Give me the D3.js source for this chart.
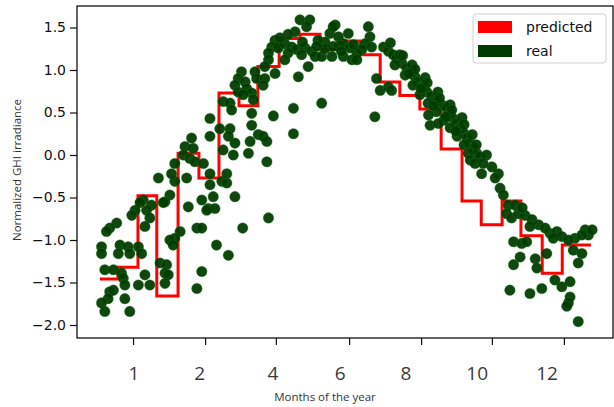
<!DOCTYPE html>
<html>
<head>
<meta charset="utf-8">
<script src="https://cdn.jsdelivr.net/npm/d3@7"></script>
<style>
  body { margin: 0; background: #fff; }
  svg { display: block; }
</style>
</head>
<body>
<div id="chart"></div>
<script>
// données -----------------------------------------------------------------
// prédiction : une valeur par demi-mois, bornes en mois
const stepEdges = [0, 0.44, 0.93, 1.39, 1.91, 2.42, 2.91, 3.40, 3.86, 4.38, 4.89, 5.38,
  5.84, 6.36, 6.85, 7.33, 7.82, 8.34, 8.85, 9.32, 9.83, 10.29, 10.81, 11.30, 12.0];
const predicted = [-1.46, -1.32, -0.48, -1.66, 0.02, -0.27, 0.73, 0.58, 1.04, 1.37, 1.42, 1.24,
  1.34, 1.18, 0.86, 0.70, 0.54, 0.07, -0.54, -0.82, -0.54, -0.95, -1.39, -1.06];

// mesures réelles (mois, GHI normalisé)
const realMonth = [
  1.43, 1.83, 2.12, 2.69, 2.98, 1.06, 1.26, 1.71, 1.59, 0.86, 0.78, 1.14, 1.22, 1.10, 2.16, 2.49,
  2.65, 2.81, 2.77, 0.41, 0.24, 0.16, 2.37, 2.49, 1.96, 1.83, 1.71, 1.79, 0.04, 0.04, 0.49, 0.45,
  0.69, 0.73, 0.94, 1.02, 2.85, 0.12, 0.33, 0.53, 0.57, 0.61, 1.47, 1.63, 1.59, 1.67, 1.10, 2.49,
  0.94, 1.22, 1.59, 2.37, 0.24, 0.33, 0.20, 0.61, 0.04, 0.12, 0.73, 1.55, 0.98, 2.61, 3.30, 3.49,
  4.12, 3.14, 3.10, 2.69, 2.93, 2.69, 2.24, 2.08, 2.28, 2.04, 2.20, 2.32, 2.53, 2.69, 1.83, 1.75,
  3.01, 3.01, 4.89, 5.13, 5.05, 4.77, 5.75, 5.62, 5.83, 6.07, 5.50, 4.28, 4.20, 4.12, 4.36, 4.52,
  4.69, 4.81, 5.01, 5.18, 4.60, 4.93, 5.26, 5.42, 5.67, 5.95, 6.16, 4.52, 4.12, 4.03, 4.28, 5.09,
  4.85, 3.79, 3.83, 4.03, 3.46, 3.38, 3.30, 3.55, 3.59, 3.71, 3.38, 3.50, 3.75, 3.99, 5.42, 4.73,
  4.24, 3.71, 3.71, 3.18, 3.22, 3.18, 3.14, 3.30, 3.67, 3.87, 3.99, 4.08, 4.73, 3.26, 3.63, 4.08,
  3.10, 5.70, 6.56, 6.60, 6.48, 6.40, 6.28, 6.28, 6.64, 6.93, 7.05, 7.17, 7.25, 7.38, 7.50, 7.62,
  7.70, 7.78, 7.90, 7.99, 8.11, 8.23, 8.36, 8.48, 8.56, 8.64, 8.72, 8.80, 8.89, 8.97, 9.05, 9.13,
  9.21, 9.29, 7.21, 7.46, 7.65, 7.82, 8.02, 8.22, 8.41, 8.56, 8.73, 8.90, 7.33, 7.63, 7.95, 8.26,
  8.56, 8.85, 9.10, 6.76, 6.85, 7.05, 7.13, 6.72, 8.03, 8.07, 8.27, 9.00, 9.05, 9.17, 9.45, 9.58,
  9.74, 9.37, 9.33, 5.95, 5.33, 5.87, 6.11, 9.66, 9.78, 9.86, 9.98, 9.94, 10.06, 10.23, 10.39, 10.56,
  10.72, 10.51, 11.00, 11.17, 11.29, 11.08, 11.61, 11.86, 11.94, 11.78, 11.45, 10.11, 10.31, 10.43, 10.27, 10.11,
  10.64, 10.68, 10.92, 11.57, 11.78, 11.69, 11.12, 11.29, 11.49, 10.02, 10.51, 10.80, 11.49, 11.45, 11.41, 11.69,
  10.15, 10.32, 10.88, 12.03,
  // points ajoutés pour épaissir les zones denses
  5.50, 5.70, 5.90, 6.20, 5.30, 4.95, 4.60, 4.40, 7.10, 7.40, 7.70, 8.00, 8.30, 8.60, 8.90, 9.20,
  7.55, 7.85, 8.15, 8.45, 8.70
];
const realValue = [
  -0.27, -0.31, -0.27, -0.35, -0.31, -0.53, -0.59, -0.47, -0.55, -0.65, -0.71, -0.65, -0.74, -0.84, -0.61, -0.53,
  -0.63, -0.63, -0.49, -0.80, -0.86, -0.90, -0.86, -0.86, -0.90, -0.98, -1.00, -1.06, -1.08, -1.16, -1.06, -1.16,
  -1.08, -1.16, -1.08, -1.16, -1.06, -1.35, -1.35, -1.39, -1.45, -1.53, -1.27, -1.29, -1.39, -1.41, -1.41, -1.37,
  -1.53, -1.53, -1.51, -1.57, -1.61, -1.59, -1.69, -1.69, -1.74, -1.84, -1.84, -0.56, -0.56, -0.65, -0.49, -0.86,
  -0.74, -1.18, -0.33, 0.43, 0.31, 0.22, 0.20, 0.10, 0.08, 0.00, -0.04, -0.08, -0.10, -0.22, -0.10, -0.22,
  0.63, 0.06, 1.59, 1.59, 1.51, 1.45, 1.53, 1.43, 1.39, 1.43, 1.33, 1.35, 1.27, 1.20, 1.26, 1.31,
  1.27, 1.24, 1.26, 1.22, 1.20, 1.18, 1.16, 1.16, 1.16, 1.16, 1.12, 1.12, 1.12, 1.04, 0.96, 1.04,
  0.92, 0.98, 0.90, 0.90, 0.98, 0.90, 0.82, 0.86, 0.78, 0.73, 0.74, 0.71, 0.65, 0.82, 0.61, 0.55,
  0.46, 0.49, 0.35, 0.61, 0.53, 0.31, 0.22, 0.14, 0.16, 0.24, 0.22, 0.16, 0.25, 0.00, 0.02, -0.08,
  -0.22, 1.51, 1.51, 1.39, 1.31, 1.24, 1.20, 1.12, 1.27, 1.27, 1.22, 1.18, 1.14, 1.08, 1.02, 0.98,
  0.92, 0.86, 0.80, 0.74, 0.69, 0.63, 0.59, 0.55, 0.49, 0.43, 0.37, 0.31, 0.26, 0.20, 0.14, 0.08,
  0.02, -0.02, 1.06, 0.94, 0.82, 0.71, 0.61, 0.51, 0.41, 0.32, 0.22, 0.12, 1.18, 1.06, 0.91, 0.74,
  0.59, 0.44, 0.24, 0.90, 0.76, 0.80, 0.76, 0.45, 0.47, 0.35, 0.37, 0.02, -0.06, -0.10, 0.00, -0.14,
  -0.22, -0.10, -0.22, 1.31, 1.35, 1.29, 1.26, -0.27, -0.39, -0.47, -0.59, -0.69, -0.74, -0.69, -0.71, -0.76,
  -0.82, -0.84, -0.92, -0.90, -0.96, -0.98, -0.98, -0.88, -0.94, -0.94, -1.00, -1.02, -1.04, -1.02, -1.20, -1.29,
  -1.22, -1.33, -1.16, -1.12, -1.16, -1.27, -1.47, -1.55, -1.49, -1.59, -1.63, -1.57, -1.67, -1.74, -1.78, -1.96,
  -0.59, -0.62, -0.86, -0.88,
  1.25, 1.28, 1.22, 1.30, 1.28, 1.33, 1.42, 1.38, 1.32, 1.17, 1.01, 0.85, 0.67, 0.53, 0.36, 0.12,
  0.96, 0.78, 0.58, 0.45, 0.28
];

// axes
const yTicks = [-2.0, -1.5, -1.0, -0.5, 0.0, 0.5, 1.0, 1.5];
const xTickPos = [0.81, 2.57, 4.30, 6.09, 7.85, 9.58, 11.34];
const xLabelPos = [0.83, 2.44, 4.23, 5.87, 7.48, 9.22, 10.93];
const xLabels = ["1", "2", "4", "6", "8", "10", "12"];

// svg ---------------------------------------------------------------------
const largeur = 614;
const hauteur = 407;
const marge = { haut: 6, droite: 1, bas: 69, gauche: 77 };
const vert = "#003b00";

const svg = d3.select("#chart").append("svg")
  .attr("width", largeur)
  .attr("height", hauteur);

const x = d3.scaleLinear().domain([-0.56, 12.54]).range([marge.gauche, largeur - marge.droite]);
const y = d3.scaleLinear().domain([-2.153, 1.753]).range([hauteur - marge.bas, marge.haut]);

// ligne en escalier de la prédiction
const stepPoints = [];
predicted.forEach((v, i) => {
  stepPoints.push([stepEdges[i], v]);
  stepPoints.push([stepEdges[i + 1], v]);
});
const line = d3.line().x((d) => x(d[0])).y((d) => y(d[1]));

svg.append("path")
  .datum(stepPoints)
  .attr("d", line)
  .attr("fill", "none")
  .attr("stroke", "#ff0000")
  .attr("stroke-width", 3);

// points réels
const real = realMonth.map((m, i) => ({ m: m, v: realValue[i] }));
svg.append("g")
  .selectAll("circle")
  .data(real)
  .join("circle")
  .attr("cx", (d) => x(d.m))
  .attr("cy", (d) => y(d.v))
  .attr("r", 5.3)
  .attr("fill", vert)
  .attr("fill-opacity", 0.94)
  .attr("stroke", "#2a8a2a")
  .attr("stroke-opacity", 0.4)
  .attr("stroke-width", 0.8);

// axe y
const axeY = svg.append("g")
  .attr("transform", `translate(${marge.gauche},0)`)
  .call(d3.axisLeft(y).tickValues(yTicks).tickSize(7).tickPadding(4)
    .tickFormat((d) => d3.format(".1f")(d).replace("-", "\u2212")));
axeY.select(".domain").remove();
axeY.selectAll("text")
  .attr("font-family", "DejaVu Sans")
  .attr("font-size", 14)
  .attr("fill", "#111");
axeY.selectAll("line").attr("stroke", "#111").attr("stroke-width", 1.2);

// axe x : seulement les traits, les étiquettes sont posées à part
const axeX = svg.append("g")
  .attr("transform", `translate(0,${hauteur - marge.bas})`)
  .call(d3.axisBottom(x).tickValues(xTickPos).tickSize(7).tickFormat(""));
axeX.select(".domain").remove();
axeX.selectAll("line").attr("stroke", "#111").attr("stroke-width", 1.2);

svg.append("g")
  .selectAll("text")
  .data(xLabels)
  .join("text")
  .attr("x", (d, i) => x(xLabelPos[i]))
  .attr("y", 380)
  .attr("text-anchor", "middle")
  .attr("font-family", "Open Sans")
  .attr("font-size", 19)
  .attr("fill", "#3a3a3a")
  .text((d) => d);

// cadre
svg.append("rect")
  .attr("x", marge.gauche)
  .attr("y", marge.haut)
  .attr("width", largeur - marge.droite - marge.gauche)
  .attr("height", hauteur - marge.bas - marge.haut)
  .attr("fill", "none")
  .attr("stroke", "#111")
  .attr("stroke-width", 1.3);

// titres des axes
svg.append("text")
  .attr("x", 325)
  .attr("y", 401)
  .attr("text-anchor", "middle")
  .attr("font-family", "Open Sans")
  .attr("font-size", 11.5)
  .attr("fill", "#333")
  .text("Months of the year");

svg.append("text")
  .attr("transform", "translate(21,170) rotate(-90)")
  .attr("text-anchor", "middle")
  .attr("font-family", "Open Sans")
  .attr("font-size", 11.5)
  .attr("fill", "#333")
  .text("Normalized GHI irradiance");

// légende
const legende = svg.append("g").attr("transform", "translate(473,14)");
legende.append("rect")
  .attr("width", 133).attr("height", 49).attr("rx", 3)
  .attr("fill", "#fff").attr("stroke", "#d0d0d0");
const items = [["predicted", "#ff0000"], ["real", vert]];
items.forEach((it, i) => {
  legende.append("rect")
    .attr("x", 5).attr("y", 7 + i * 24)
    .attr("width", 34).attr("height", 12)
    .attr("fill", it[1]);
  legende.append("text")
    .attr("x", 53).attr("y", 18 + i * 24)
    .attr("font-family", "DejaVu Sans")
    .attr("font-size", 14)
    .attr("fill", "#111")
    .text(it[0]);
});
</script>
</body>
</html>
